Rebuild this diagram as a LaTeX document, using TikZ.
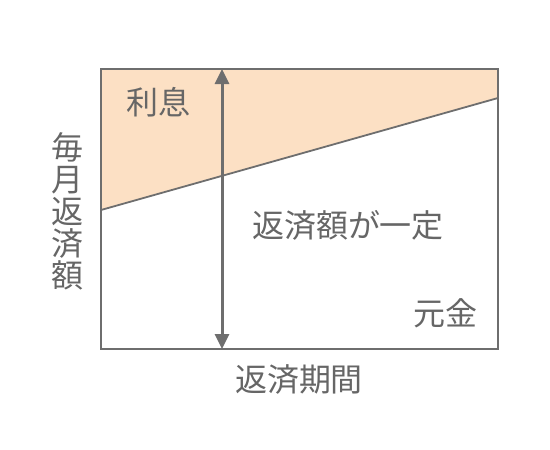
\documentclass[tikz,border=0pt]{standalone}
\usepackage{fontspec}
\newfontfamily\cjk{Noto Sans CJK JP}
\usetikzlibrary{arrows.meta}
\definecolor{linegray}{HTML}{6E6E6E}
\definecolor{textgray}{HTML}{666666}
\definecolor{interest}{HTML}{FCE0C4}
\tikzset{
  lbl/.style={font=\cjk\fontsize{32}{32}\selectfont, text=textgray, inner sep=0pt,
    text height=0.88em, text depth=0.12em, anchor=center},
  frame/.style={draw=linegray, line width=1.8pt},
  dbl/.style={draw=linegray, line width=3pt, {Triangle[length=15pt,width=14pt]}-{Triangle[length=15pt,width=14pt]}, shorten <=0pt, shorten >=0pt}
}
\begin{document}
\begin{tikzpicture}[x=1pt,y=-1pt]
\useasboundingbox (0,0) rectangle (550,450);
\coordinate (tl) at (101,69);
\coordinate (tr) at (498,69);
\coordinate (br) at (498,349);
\coordinate (bl) at (101,349);
\coordinate (ls) at (101,210);
\coordinate (le) at (498,98);
\coordinate (atop) at (222,69);
\coordinate (abot) at (222,349);
\fill[interest] (tl) -- (tr) -- (le) -- (ls) -- cycle;
\draw[draw=linegray, line width=1.8pt] (ls) -- (le);
\draw[frame] (tl) rectangle (br);
\draw[dbl] (atop) -- (abot);
\node[lbl] (rishi) at (158.5,111) {利息};
\node[lbl] (teigaku) at (348,234) {返済額が一定};
\node[lbl] (gankin) at (445,322) {元金};
\node[lbl] (kikan) at (299,388) {返済期間};
\node[font=\cjk\fontsize{32}{32}\selectfont, text=textgray, inner sep=0pt, align=center, anchor=center] (maitsuki) at (68,211) {毎\\月\\返\\済\\額};
\end{tikzpicture}
\end{document}
